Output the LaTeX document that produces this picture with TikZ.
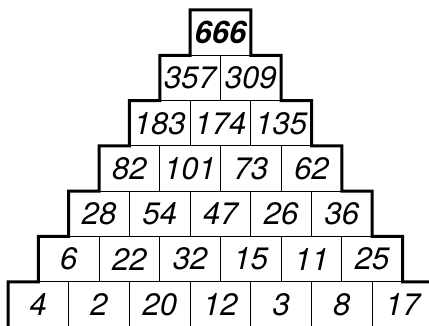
\documentclass[tikz,border=0pt]{standalone}
\usepackage{fontspec}
\setmainfont{TeX Gyre Heros}
\begin{document}
\begin{tikzpicture}[x=1pt,y=-1pt,
  cell/.style={draw, line width=0.9pt, minimum width=60.7pt, minimum height=45.3pt,
    inner sep=0pt, outer sep=0pt, anchor=north west,
    font=\fontsize{31}{31}\selectfont\itshape},
  outline/.style={line width=3pt, line join=miter}]
\clip (0,0) rectangle (429,326);
\fill[white] (0,0) rectangle (429,326);
% row 1
\node[cell] (c1-1) at (190.1,10) {\raisebox{-1.5pt}{\textbf{666}}};
\foreach \r/\list in {2/{357,309},3/{183,174,135},4/{82,101,73,62},5/{28,54,47,26,36},6/{6,22,32,15,11,25},7/{4,2,20,12,3,8,17}}{
  \foreach \v [count=\c] in \list {
    \pgfmathsetmacro\xx{8+(7-\r)*30.35+(\c-1)*60.7}
    \pgfmathsetmacro\yy{10+(\r-1)*45.3}
    \node[cell] (c\r-\c) at (\xx,\yy) {\raisebox{-1.5pt}{\v}};
  }
}
\coordinate (bl) at (8,340);
\coordinate (br) at (432.9,340);
\draw[outline] (bl) -- (c7-1.north west) -- (c6-1.south west) -- (c6-1.north west)
  -- (c5-1.south west) -- (c5-1.north west) -- (c4-1.south west) -- (c4-1.north west)
  -- (c3-1.south west) -- (c3-1.north west) -- (c2-1.south west) -- (c2-1.north west)
  -- (c1-1.south west) -- (c1-1.north west) -- (c1-1.north east) -- (c1-1.south east)
  -- (c2-2.north east) -- (c2-2.south east) -- (c3-3.north east) -- (c3-3.south east)
  -- (c4-4.north east) -- (c4-4.south east) -- (c5-5.north east) -- (c5-5.south east)
  -- (c6-6.north east) -- (c6-6.south east) -- (c7-7.north east) -- (br);
\end{tikzpicture}
\end{document}
